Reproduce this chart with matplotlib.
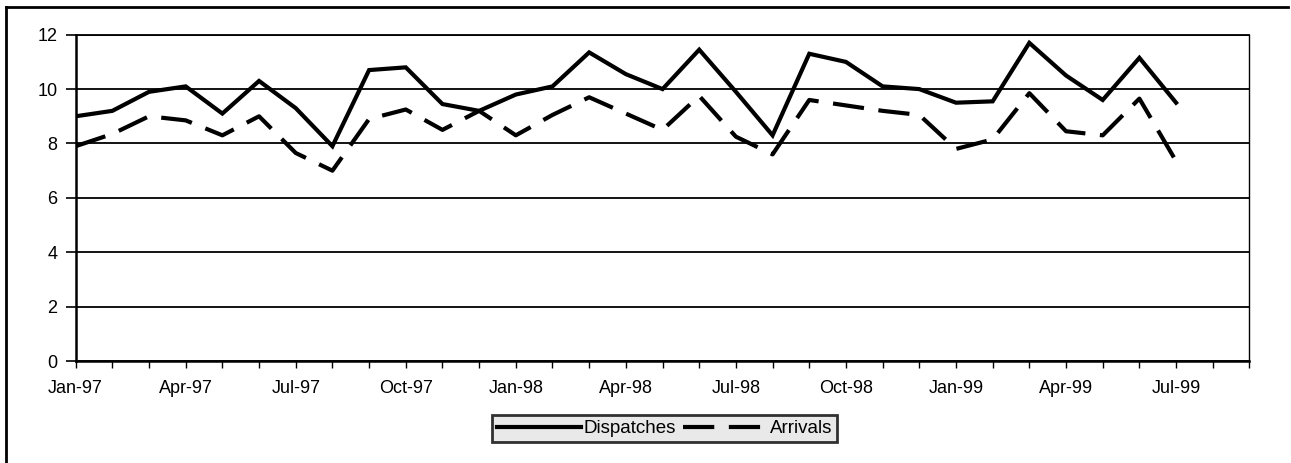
import matplotlib
matplotlib.use("Agg")
import matplotlib.pyplot as plt
from matplotlib.lines import Line2D

plt.rcParams['font.family'] = ['Liberation Sans', 'DejaVu Sans']

# monthly series, Jan-97 .. Jul-99
months = ['Jan-97', 'Feb-97', 'Mar-97', 'Apr-97', 'May-97', 'Jun-97', 'Jul-97', 'Aug-97',
          'Sep-97', 'Oct-97', 'Nov-97', 'Dec-97', 'Jan-98', 'Feb-98', 'Mar-98', 'Apr-98',
          'May-98', 'Jun-98', 'Jul-98', 'Aug-98', 'Sep-98', 'Oct-98', 'Nov-98', 'Dec-98',
          'Jan-99', 'Feb-99', 'Mar-99', 'Apr-99', 'May-99', 'Jun-99', 'Jul-99']
dispatches = [9.0, 9.2, 9.9, 10.1, 9.1, 10.3, 9.3, 7.9, 10.7, 10.8, 9.45,
              9.2, 9.8, 10.1, 11.35, 10.55, 10.0, 11.45, 9.9, 8.3, 11.3,
              11.0, 10.1, 10.0, 9.5, 9.55, 11.7, 10.5, 9.6, 11.15, 9.5]
arrivals = [7.9, 8.35, 9.0, 8.85, 8.3, 9.0, 7.65, 7.0, 8.9, 9.25, 8.5,
            9.2, 8.3, 9.05, 9.7, 9.1, 8.5, 9.75, 8.25, 7.6, 9.6,
            9.4, 9.2, 9.05, 7.8, 8.15, 9.85, 8.45, 8.3, 9.65, 7.35]

# axis runs past the data (through Sep-99)
tick_labels = ['Jan-97', '', '', 'Apr-97', '', '', 'Jul-97', '', '', 'Oct-97', '', '',
               'Jan-98', '', '', 'Apr-98', '', '', 'Jul-98', '', '', 'Oct-98', '', '',
               'Jan-99', '', '', 'Apr-99', '', '', 'Jul-99', '', '']
y_ticks = [0, 2, 4, 6, 8, 10, 12]

fig = plt.figure(figsize=(12.91, 4.63), dpi=100)
ax = fig.add_axes([0.0586, 0.2203, 0.9092, 0.7047])

x = list(range(len(months)))
ax.plot(x, dispatches, color='black', lw=3.0, solid_joinstyle='miter',
        label='Dispatches', zorder=3)
ax.plot(x, arrivals, color='black', lw=3.0, dashes=(7.5, 3.5),
        dash_capstyle='butt', label='Arrivals', zorder=3)

ax.set_xlim(0, len(tick_labels) - 1)
ax.set_ylim(0, 12)
ax.set_xticks(range(len(tick_labels)))
ax.set_xticklabels(tick_labels, fontsize=13)
ax.set_yticks(y_ticks)
ax.set_yticklabels([str(v) for v in y_ticks], fontsize=13)
ax.tick_params(axis='x', direction='out', length=5, width=1, pad=9)
ax.tick_params(axis='y', direction='out', length=7, width=1.2, pad=6)

ax.grid(axis='y', color='black', lw=1.3, zorder=1)
for s in ax.spines.values():
    s.set_color('black')
ax.spines['left'].set_linewidth(1.8)
ax.spines['bottom'].set_linewidth(1.8)
ax.spines['top'].set_linewidth(1.3)
ax.spines['right'].set_linewidth(1.0)

handles = [Line2D([], [], color='black', lw=3.0),
           Line2D([], [], color='black', lw=3.0, dashes=(7.5, 3.5))]
leg = fig.legend(handles, ['Dispatches', 'Arrivals'], loc='center',
                 bbox_to_anchor=(0.5147, 0.0745), ncol=2, fontsize=13.5,
                 frameon=True, fancybox=False, handlelength=4.5,
                 handletextpad=0.1, columnspacing=0.4, borderpad=0.25,
                 borderaxespad=0)
leg.get_frame().set_facecolor('#e4e4e4')
leg.get_frame().set_edgecolor('black')
leg.get_frame().set_linewidth(2.0)

# outer chart border (top and left edges visible in the scan)
fig.add_artist(Line2D([0.0046, 0.998], [0.985, 0.985], color='black', lw=2.0,
                      transform=fig.transFigure))
fig.add_artist(Line2D([0.0046, 0.0046], [0.0, 0.985], color='black', lw=2.0,
                      transform=fig.transFigure))

fig.savefig('out.png', dpi=100)
